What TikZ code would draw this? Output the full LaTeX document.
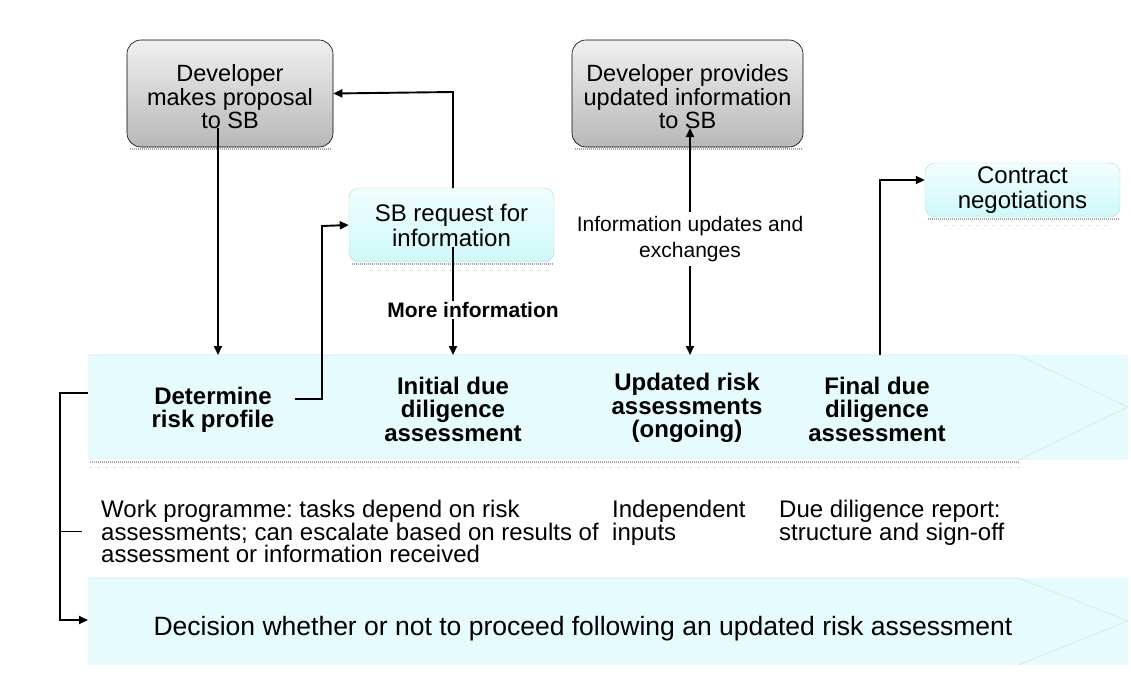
\documentclass[tikz,border=0pt]{standalone}
\usepackage{fontspec}
\setmainfont{Liberation Sans}
\usetikzlibrary{arrows.meta,calc}
\definecolor{cyanlt}{HTML}{F2FEFE}
\definecolor{cyandk}{HTML}{CFF8F9}
\definecolor{bandfill}{HTML}{E6FBFC}
\definecolor{graylt}{HTML}{F0F0F0}
\definecolor{graydk}{HTML}{B8B8B8}
\definecolor{edgegray}{HTML}{D8E4E6}
\tikzset{
  x=1pt, y=-1pt,
  devbox/.style={draw=black, line width=0.6pt, rounded corners=14pt, top color=graylt, bottom color=graydk, inner sep=0pt},
  devtext/.style={align=center, font=\fontsize{23.5}{23.5}\selectfont, inner sep=0pt},
  cyanbox/.style={draw=cyandk!70!gray, line width=0.4pt, rounded corners=10pt, top color=cyanlt, bottom color=cyandk, align=center, font=\fontsize{24}{25}\selectfont, inner sep=0pt},
  bandtext/.style={align=center, font=\bfseries\fontsize{24}{23.5}\selectfont},
  plaintext/.style={align=left, font=\fontsize{24}{22.5}\selectfont, anchor=north west, inner sep=0pt},
  conn/.style={line width=1.9pt, -{Triangle[length=9pt,width=8pt]}},
  shadowline/.style={gray!70, line width=2pt, dash pattern=on 1pt off 1pt},
}
\begin{document}
\frenchspacing
\begin{tikzpicture}
\useasboundingbox (0,0) rectangle (1131,680);
% bands
\fill[bandfill] (88,355) rectangle (1128,460);
\draw[edgegray, line width=0.6pt] (88,355) -- (1018,355) -- (1128,407) -- (1018,460);
\draw[shadowline] (90,462) -- (1020,462);
\draw[gray!60, line width=0.6pt, dash pattern=on 1pt off 7pt] (90,467) -- (1020,467);
\fill[bandfill] (88,578) rectangle (1128,665);
\draw[edgegray, line width=0.6pt] (88,578) -- (1018,578) -- (1128,621) -- (1018,665);

% band texts
\node[bandtext] (det) at (213,410) {Determine\\risk profile};
\node[bandtext] (init) at (453,409) {Initial due\\diligence\\assessment};
\node[bandtext] (upd) at (687,408) {Updated risk\\assessments\\(ongoing)};
\node[bandtext] (fin) at (877,409) {Final due\\diligence\\assessment};
\node[align=center, font=\fontsize{26.5}{28}\selectfont] (dec) at (583,629) {Decision whether or not to proceed following an updated risk assessment};

% boxes
\draw[shadowline] (130,149) -- (332,149);
\node[devbox, minimum width=206pt, minimum height=107pt] (dev1) at (230,93.5) {};
\node[devtext] (dev1t) at (230,97) {Developer\\makes proposal\\to SB};
\draw[shadowline] (575,149) -- (802,149);
\node[devbox, minimum width=231pt, minimum height=107pt] (dev2) at (687.5,93.5) {};
\node[devtext] (dev2t) at (687.5,97) {Developer provides\\updated information\\to SB};
\draw[shadowline] (352,264) -- (553,264);
\draw[gray!60, line width=0.6pt, dash pattern=on 1pt off 7pt] (370,270) -- (550,270);
\node[cyanbox, minimum width=205pt, minimum height=74pt] (req) at (451.5,225) {SB request for\\information};
\draw[shadowline] (928,219) -- (1120,219);
\draw[gray!60, line width=0.6pt, dash pattern=on 1pt off 7pt] (945,225) -- (1110,225);
\node[cyanbox, minimum width=195pt, minimum height=54pt] (con) at (1022.5,190) {Contract\\negotiations};

% info text
\node[align=center, font=\fontsize{21}{26}\selectfont] (info) at (690,239) {Information updates and\\exchanges};
\node[font=\bfseries\fontsize{21}{24}\selectfont, fill=white, inner sep=1pt] (more) at (473,310) {More information};

% lower texts
\node[plaintext] (work) at (101,500) {Work programme: tasks depend on risk\\assessments; can escalate based on results of\\assessment or information received};
\node[plaintext] (indep) at (612,500) {Independent\\inputs};
\node[plaintext] (ddr) at (779,500) {Due diligence report:\\structure and sign-off};

% connectors
\draw[conn] (218,128) -- (218,355);
\draw[conn] (295,399) -- (322,399) -- (322,226) -- (req.west);
\draw[conn] (453,188) -- (453,92) -- (dev1.east);
\draw[line width=1.9pt] (453,247) -- (more.north -| 453,0);
\draw[conn] (more.south -| 453,0) -- (453,355);
\draw[conn] (690,212) -- (690,128);
\draw[conn] (690,266) -- (690,355);
\draw[conn] (880,355) -- (880,180) -- (con.west |- 0,180);
\draw[conn] (88,393) -- (60,393) -- (60,620) -- (88,620);
\draw[line width=0.6pt] (60,531) -- (82,531);
\end{tikzpicture}
\end{document}
